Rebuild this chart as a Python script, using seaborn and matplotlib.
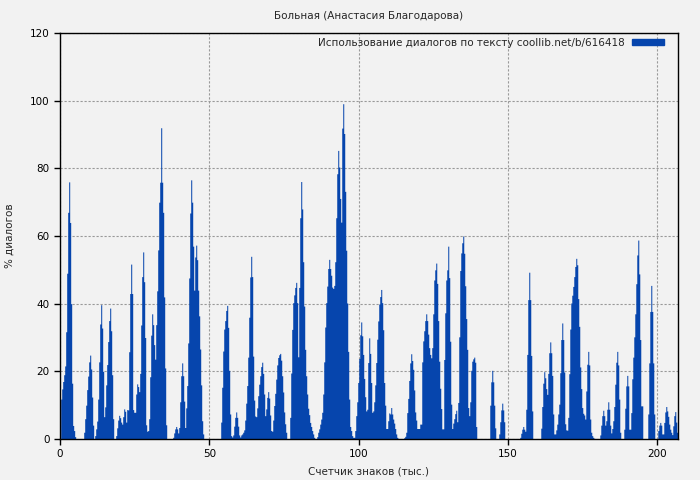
import numpy as np
import pandas as pd
import matplotlib
matplotlib.use('Agg')
import matplotlib.pyplot as plt
import seaborn as sns
from matplotlib.patches import Patch

title = 'Больная (Анастасия Благодарова)'
series_label = 'Использование диалогов по тексту coollib.net/b/616418'
x_label = 'Счетчик знаков (тыс.)'
y_label = '% диалогов'
x_ticks = [0, 50, 100, 150, 200]
y_ticks = [0, 20, 40, 60, 80, 100, 120]
bar_color = '#0645ad'

# text is sampled every ~335 characters (thousands of chars on the x axis)
start_k = 0.4
step_k = 0.335

# share of dialogue per sample, in %
dialog_pct = [
    11.8, 14.8, 17, 19, 21.6, 31.7, 49, 67, 76, 64, 40, 16.5, 4, 2.5, 0.7,
    0, 0, 0, 0, 0, 0, 0, 0,
    2, 6, 10, 14.6, 18.6, 22.8, 24.8, 20.7, 12.4, 4.1,
    0,
    1, 3, 5.3, 11.8, 22.8, 34, 39.7, 32.8, 20, 6.6, 9.5, 16, 22, 28.8, 35, 38.7, 32, 19, 6,
    0, 0,
    1, 3.3, 5.6, 7, 6.3, 5, 4.4, 6.6, 8.9, 8.2, 5, 8.7, 8.6, 25.8, 43, 51.7, 43, 8.7, 7.9, 7.9,
    13.3, 16.3, 15.5, 14, 19.4, 33.7, 48, 55.3, 46.5, 30, 4.2, 2.3, 2.5, 6, 18.4, 30.7, 37, 33.8,
    27.9, 23.6, 33.8, 43.8, 55.9, 70, 75.9, 92, 75.9, 67, 42, 21, 4.2,
    0, 0, 0, 0, 0, 0,
    0.5,
    1.8, 3, 3.7, 3, 1.8, 3.4, 11, 18.7, 22.5, 18.7, 11.2, 3.4, 9.2, 15.8, 28.4, 47.6, 66.8, 76.6,
    70, 57, 44, 53.8, 57.3, 53, 44, 36.4, 26.6, 16, 5.4, 1.5,
    0, 0, 0, 0, 0, 0, 0, 0, 0, 0, 0, 0, 0, 0, 0, 0, 0,
    5, 15.3, 26, 32.5, 35, 38, 39.5, 33, 20.3, 7.4, 1, 0.6, 1.2, 3.8, 6.4, 8, 6.4, 3.8, 1.2, 0.6,
    1.2, 1.5, 2, 2.7, 5.6, 10.6, 15.8, 24.2, 36, 47.9, 54, 48, 24.5, 11.5, 6.8, 6.6, 9.2, 12.8,
    16.2, 18.7, 21.4, 22.7, 19.4, 13.3, 6.9, 8.9, 12.3, 14, 12.1, 7.1, 2.5, 2.3, 5.6, 9.9, 13.5,
    17.7, 21.9, 24.1, 24.9, 25.3, 23.3, 18.7, 13.9, 8, 4.5,
    2, 0, 0, 0,
    6.4, 19.5, 32.4, 40.3, 42.6, 44.8, 46.3, 40.3, 24.3, 44.8, 65.4, 76.1, 68, 52.4, 39.3, 26.5,
    18.7, 13.3, 9.1, 7.2, 4.9, 3.7, 2.5, 1.5, 0.5, 0, 0,
    0.7, 2, 3, 4.4, 5.9, 7.9, 13.3, 22.8, 33.1, 40.3, 45.2, 50.4, 53.1, 50.4, 48.4, 44.9, 44.5,
    45.4, 52.4, 65.4, 78.4, 85.3, 80.4, 71.1, 64.1, 91.9, 99.1, 90.3, 73.2, 55.8, 40.2, 25.9,
    11.8, 3.7, 2.5, 1, 0.5, 0.5, 2.5, 6.9, 11, 16.7, 23.8, 30.8, 34.6, 30.5, 25, 17.9, 12.5, 8.3,
    8.8, 22.6, 29.9, 25.3, 16.7, 7.9, 8.3, 11, 16, 22.6, 29.5, 34.9, 39.9, 42.1, 44.2, 40.3, 32.3,
    16.7, 10, 3.1, 3.1, 5.4, 7.7,
    7.4, 9.3, 7.4, 5.9, 4.7, 3.1, 1.5, 0.5, 0.2,
    0, 0, 0, 0, 0,
    0.4, 0.8, 2, 7.8, 12, 17.3, 22.5, 25.2, 23.2, 20.6, 14.5, 8, 5.6, 3.1, 3.1, 3.1, 4.4, 4.4,
    22.8, 29, 32, 35, 37, 35, 31, 27, 25, 24, 27, 37, 47, 50, 52,
    46, 35, 23, 15, 9, 3, 3, 23.5, 37.3, 47, 50, 57, 47.7, 28.9, 10.3, 3.1, 4.7, 6, 7.5, 8.5, 5.1,
    10.8, 30.2, 49.8, 55, 58, 60, 54.9, 45.3, 35.6, 26.5, 9.3, 6.9, 11, 20.3, 23, 23.7, 24.2,
    22.7, 3.7,
    0, 0, 0, 0, 0, 0, 0, 0, 0, 0, 0, 0, 0,
    10, 16.9, 20.3, 16.9, 10, 3.3,
    0, 0, 0,
    1.5, 5.1, 8.6, 10.6, 8.6, 5.1,
    0, 0, 0, 0, 0, 0, 0, 0, 0, 0, 0, 0, 0, 0, 0,
    0.5, 1.7, 2.9, 3.7, 2.9, 2.3, 8.8, 25, 41.2, 49.3, 41.2, 24.7, 8.3,
    0, 0, 0, 0, 0, 0, 0, 0,
    3.2, 9.6, 16.5, 19.9, 18.1, 14.9, 13.2, 19.4, 25.5, 28.7, 25.5, 18.8, 7.4, 1.5, 1.5, 2.7, 4.4,
    7.4, 10.3, 19.6, 29.4, 34.3, 29.4, 19.8, 4.5, 2.7, 2.6, 6.4, 19.3, 32.5, 40.2, 42.5, 45.1,
    48, 51, 53.4, 51.5, 41.5, 33.3, 21.3, 14.9, 9.3, 7.6, 7.1, 5.9, 14.2, 22.1, 25.9, 21.9, 5.9,
    2, 1, 0.5, 0.2,
    0, 0, 0, 0, 0,
    1.2, 4.1, 6.9, 8.5, 6.9, 4.1, 5.4, 8.8, 11, 8.8, 4.1, 1.8, 3.1, 5.4, 9.6, 16.2, 22.7, 25.9,
    21.9, 11.8, 2,
    0, 0, 0,
    2.9, 9.1, 15.7, 18.8, 15.7, 2.9, 2.9, 7.8, 17.8, 24.2, 30.2, 37, 45.9, 54.4, 58.8, 48.8, 29.4,
    9.8, 9.8,
    0, 0, 0, 0, 0,
    7.4, 22.5, 37.7, 45.4, 37.7, 22.5, 7.4,
    0, 0, 0,
    2.5, 4.1, 4.9, 4.1, 1.5, 1.5, 4.9, 8, 9.6, 8.3, 6.7, 4.4, 2.9, 2, 1.3, 3.9, 6.9, 8.1, 5, 2,
]

n = len(dialog_pct)
df = pd.DataFrame({'k': start_k + np.arange(n) * step_k, 'pct': dialog_pct})
lo = df['k'].iloc[0] - step_k / 2
hi = df['k'].iloc[-1] + step_k / 2

sns.set_style('ticks')
plt.rcParams['font.family'] = ['DejaVu Sans']

fig = plt.figure(figsize=(7, 4.8), dpi=100, facecolor='#f2f2f2')
ax = fig.add_axes([60 / 700, 41 / 480, 618 / 700, 406 / 480])
ax.set_facecolor('#f2f2f2')

# one bin per sample, each sample sits in the middle of its bin
sns.histplot(data=df, x='k', weights='pct', bins=n, binrange=(lo, hi),
             element='step', fill=True, color=bar_color, alpha=1, linewidth=0, ax=ax)

ax.set_xlim(0, 207)
ax.set_ylim(0, 120)
ax.set_xticks(x_ticks)
ax.set_yticks(y_ticks)
ax.set_axisbelow(True)
ax.grid(True, color='#999999', linestyle=(0, (2, 1.6)), linewidth=0.8)
for s in ax.spines.values():
    s.set_visible(True)
    s.set_color('black')
    s.set_linewidth(1)
ax.tick_params(direction='out', length=4, width=1, labelsize=7.5, colors='black')

ax.set_title(title, fontsize=7.5, pad=10)
ax.set_xlabel(x_label, fontsize=7.5, labelpad=5)
ax.set_ylabel(y_label, fontsize=7.5, labelpad=11)

handle = Patch(color=bar_color, label=series_label)
ax.legend(handles=[handle], loc='upper right', bbox_to_anchor=((664 - 60) / 618, 1 - 5 / 406),
          frameon=False, markerfirst=False, fontsize=7.5, borderaxespad=0, borderpad=0,
          handlelength=3.1, handleheight=0.45, handletextpad=0.65)

fig.savefig('out.png', dpi=100, facecolor=fig.get_facecolor())
